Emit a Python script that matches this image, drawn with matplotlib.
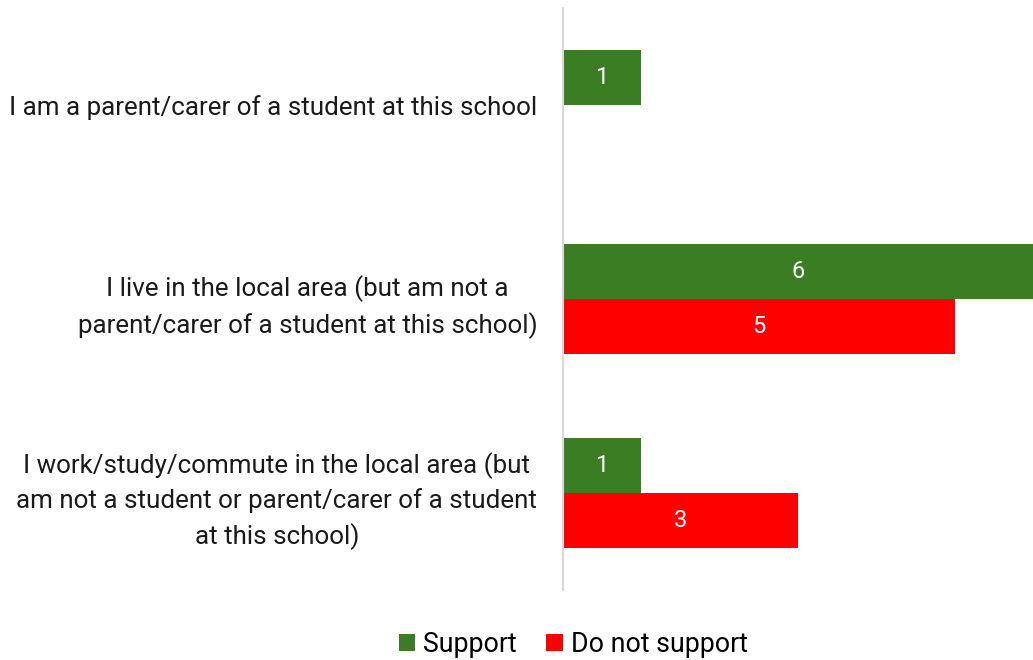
import matplotlib.pyplot as plt
import numpy as np

categories = [
    "I am a parent/carer of a student at this school",
    "I live in the local area (but am not a\nparent/carer of a student at this school)",
    "I work/study/commute in the local area (but\nam not a student or parent/carer of a student\nat this school)",
]
support = [1, 6, 1]
not_support = [0, 5, 3]

GREEN = "#3A7D22"
RED = "#FF0000"

plt.rcParams["font.family"] = ["Roboto", "DejaVu Sans"]

fig = plt.figure(figsize=(10.33, 6.6), dpi=100)
ax = fig.add_axes([0.545, 0.106, 0.455, 0.882])

y = np.arange(len(categories))
h = 0.283

b1 = ax.barh(y - h / 2, support, h, color=GREEN, label="Support")
b2 = ax.barh(y + h / 2, not_support, h, color=RED, label="Do not support")

for bars, vals in [(b1, support), (b2, not_support)]:
    for bar, v in zip(bars, vals):
        if v == 0:
            continue
        ax.text(v / 2, bar.get_y() + bar.get_height() / 2, str(v),
                ha="center", va="center", color="white", fontsize=17)

ax.set_xlim(0, 6)
ax.set_ylim(2.5, -0.5)
ax.set_yticks(y)
ax.set_yticklabels(categories, fontsize=18.7, ha="right", multialignment="center",
                   linespacing=1.48, color="#1a1a1a")
ax.tick_params(axis="y", length=0, pad=18.5)
ax.set_xticks([])
for s in ["top", "right", "bottom"]:
    ax.spines[s].set_visible(False)
ax.spines["left"].set_color("#D9D9D9")
ax.spines["left"].set_linewidth(1.5)

fig.legend(loc="center", bbox_to_anchor=(0.555, 0.023), ncol=2,
           frameon=False, fontsize=19.3, handlelength=0.6, handleheight=0.6,
           handletextpad=0.3, columnspacing=1.1)

fig.savefig("out.png", dpi=100)
